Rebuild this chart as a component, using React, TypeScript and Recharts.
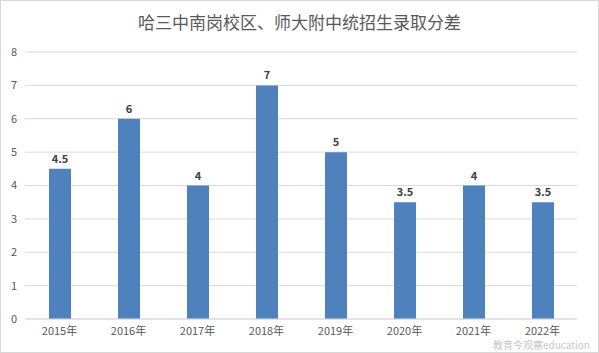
import { Bar, BarChart, CartesianGrid, LabelList, XAxis, YAxis } from 'recharts';

const years = ['2015年', '2016年', '2017年', '2018年', '2019年', '2020年', '2021年', '2022年'];
const gaps = [4.5, 6, 4, 7, 5, 3.5, 4, 3.5];
const yTicks = [0, 1, 2, 3, 4, 5, 6, 7, 8];

const data = years.map((year, i) => ({ year, gap: gaps[i] }));

const font = '"Noto Sans CJK SC", "Noto Sans", sans-serif';

export default function App() {
  return (
    <div
      style={{
        position: 'absolute',
        left: 0,
        top: 0,
        width: 599,
        height: 353,
        background: '#fff',
        boxSizing: 'border-box',
        border: '1px solid #d9d9d9',
        fontFamily: font,
      }}
    >
      <div
        style={{
          position: 'absolute',
          left: 0,
          right: 0,
          top: 8,
          textAlign: 'center',
          fontSize: 17,
          color: '#595959',
        }}
      >
        哈三中南岗校区、师大附中统招生录取分差
      </div>
      <div style={{ position: 'absolute', left: -1, top: -1 }}>
        <BarChart
          width={599}
          height={353}
          data={data}
          margin={{ top: 52, right: 22, bottom: 0, left: 0 }}
          barSize={22}
        >
          <CartesianGrid vertical={false} stroke="#d9d9d9" />
          <XAxis
            dataKey="year"
            height={34}
            tickLine={false}
            axisLine={{ stroke: '#d9d9d9' }}
            tick={{ fill: '#595959', fontSize: 11, fontFamily: font }}
          />
          <YAxis
            width={25}
            domain={[0, 8]}
            ticks={yTicks}
            interval={0}
            tickLine={false}
            axisLine={false}
            tick={{ fill: '#595959', fontSize: 11, fontFamily: font }}
          />
          <Bar dataKey="gap" fill="#4f81bd" isAnimationActive={false}>
            <LabelList
              dataKey="gap"
              position="top"
              offset={6}
              fill="#404040"
              fontSize={11}
              fontWeight="bold"
              fontFamily={font}
            />
          </Bar>
        </BarChart>
      </div>
      <div
        style={{
          position: 'absolute',
          left: 492,
          top: 338,
          fontSize: 10,
          lineHeight: '12px',
          color: '#c8c8c8',
          whiteSpace: 'nowrap',
          textShadow: '0 0 2px #fff',
        }}
      >
        教育今观察education
      </div>
    </div>
  );
}
